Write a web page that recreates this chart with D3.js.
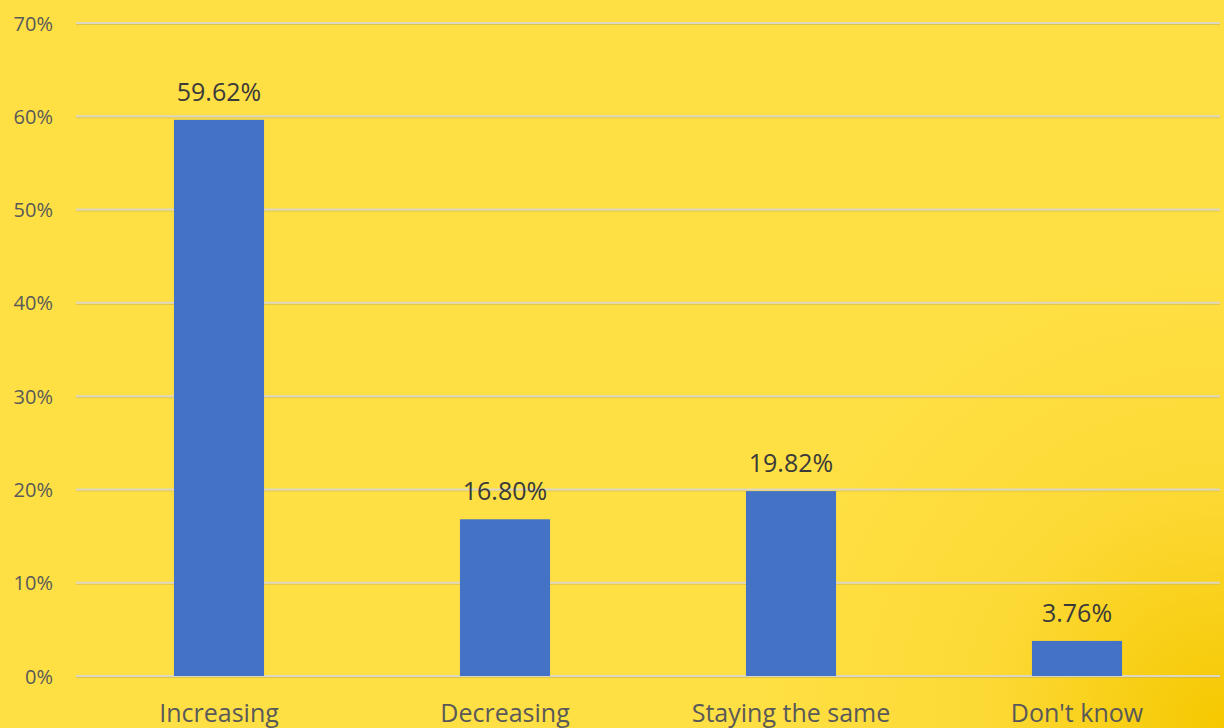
<!DOCTYPE html>
<html>
<head>
<meta charset="utf-8">
<script src="https://cdn.jsdelivr.net/npm/d3@7"></script>
<style>
  html, body { margin: 0; padding: 0; }
  body { width: 1224px; height: 728px; overflow: hidden; }
  text { font-family: "Open Sans", "Noto Sans", sans-serif; }
</style>
</head>
<body>
<svg id="chart" width="1224" height="728"></svg>
<script>
// Survey responses: share of answers per category
const categories = ["Increasing", "Decreasing", "Staying the same", "Don't know"];
const shares = [59.62, 16.80, 19.82, 3.76];
const yTicks = [0, 10, 20, 30, 40, 50, 60, 70];

const W = 1224, H = 728;
const margin = { left: 76, right: 4, top: 23, bottom: 52 };

const svg = d3.select("#chart");
const defs = svg.append("defs");

// Warm yellow backdrop, deepening toward the lower right corner
const bg = defs.append("radialGradient")
  .attr("id", "bg").attr("gradientUnits", "userSpaceOnUse")
  .attr("cx", 1224).attr("cy", 728).attr("r", 480);
bg.append("stop").attr("offset", "0").attr("stop-color", "#F6C800");
bg.append("stop").attr("offset", "0.5").attr("stop-color", "#FCD935");
bg.append("stop").attr("offset", "1").attr("stop-color", "#FFE044");
svg.append("rect").attr("width", W).attr("height", H).attr("fill", "#FFE044");
svg.append("rect").attr("width", W).attr("height", H).attr("fill", "url(#bg)");

const x = d3.scaleBand()
  .domain(categories)
  .range([margin.left, W - margin.right])
  .paddingInner(0.685)
  .paddingOuter(0.3425);

const y = d3.scaleLinear()
  .domain([0, 70])
  .range([H - margin.bottom, margin.top]);

// Gridlines
const grid = svg.append("g");
grid.selectAll("line.shadow").data(yTicks).join("line")
  .attr("class", "shadow")
  .attr("x1", margin.left).attr("x2", W - margin.right)
  .attr("y1", d => y(d) + 1.5).attr("y2", d => y(d) + 1.5)
  .attr("stroke", "#C9B24A").attr("stroke-width", 1).attr("opacity", 0.6);
grid.selectAll("line.main").data(yTicks).join("line")
  .attr("class", "main")
  .attr("x1", margin.left).attr("x2", W - margin.right)
  .attr("y1", d => y(d)).attr("y2", d => y(d))
  .attr("stroke", "#DCD7C0").attr("stroke-width", 2);

// Y axis labels
const yAxis = d3.axisLeft(y).tickValues(yTicks).tickFormat(d => d + "%").tickSize(0).tickPadding(0);
const yg = svg.append("g").attr("transform", `translate(${53},0)`).call(yAxis);
yg.select(".domain").remove();
yg.selectAll("text")
  .attr("fill", "#595959").attr("font-size", 20).attr("dy", "0.35em");

// Bars
svg.append("g").selectAll("rect").data(shares).join("rect")
  .attr("x", (d, i) => x(categories[i]))
  .attr("width", x.bandwidth())
  .attr("y", d => y(d))
  .attr("height", d => y(0) - y(d))
  .attr("fill", "#4472C4");

// Value labels
svg.append("g").selectAll("text").data(shares).join("text")
  .attr("x", (d, i) => x(categories[i]) + x.bandwidth() / 2)
  .attr("y", d => y(d) - 19)
  .attr("text-anchor", "middle")
  .attr("font-size", 25)
  .attr("fill", "#3A3A3A")
  .text(d => d.toFixed(2) + "%");

// Category labels
const xAxis = d3.axisBottom(x).tickSize(0).tickPadding(0);
const xg = svg.append("g").attr("transform", `translate(0,${y(0)})`).call(xAxis);
xg.select(".domain").remove();
xg.selectAll("text")
  .attr("fill", "#595959").attr("font-size", 25)
  .attr("dy", null).attr("y", 46);
</script>
</body>
</html>
